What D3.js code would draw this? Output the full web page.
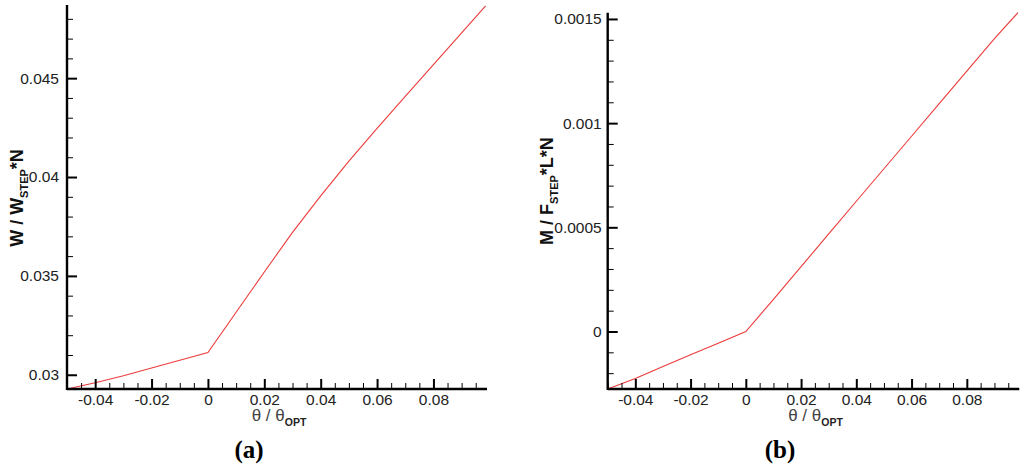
<!DOCTYPE html>
<html>
<head>
<meta charset="utf-8">
<script src="https://cdn.jsdelivr.net/npm/d3@7"></script>
<style>
  html, body { margin: 0; padding: 0; background: #fff; }
  svg { display: block; }
</style>
</head>
<body>
<svg id="chart" width="1024" height="470"></svg>
<script>
// ---- data ----
const thetaValues = [-0.05, -0.04, -0.03, -0.02, -0.01, 0, 0.01, 0.02, 0.03, 0.04, 0.05, 0.06, 0.07, 0.08, 0.09, 0.0985];
const wValues = [0.02928, 0.02960, 0.02995, 0.03034, 0.03073, 0.03112, 0.03316, 0.03520, 0.03720, 0.03905, 0.04080, 0.04246, 0.04408, 0.04568, 0.04729, 0.04866];
const mValues = [-0.000276, -0.000226, -0.000168, -0.000112, -0.0000563, 0, 0.000154, 0.000311, 0.000468, 0.000625, 0.000781, 0.000937, 0.001094, 0.00125, 0.001406, 0.00153];

const xMajorTicks = [-0.04, -0.02, 0, 0.02, 0.04, 0.06, 0.08];
const xTickLabels = ["-0.04", "-0.02", "0", "0.02", "0.04", "0.06", "0.08"];
const wMajorTicks = [0.03, 0.035, 0.04, 0.045];
const wTickLabels = ["0.03", "0.035", "0.04", "0.045"];
const mMajorTicks = [0, 0.0005, 0.001, 0.0015];
const mTickLabels = ["0", "0.0005", "0.001", "0.0015"];

const xMinorStep = 0.005;
const wMinorStep = 0.001;
const mMinorStep = 0.0001;

const svg = d3.select("#chart");
const FONT = "'Liberation Sans', Arial, sans-serif";

function minorTicks(domain, step, majors) {
  const out = [];
  const start = Math.ceil(domain[0] / step - 1e-6);
  const end = Math.floor(domain[1] / step + 1e-6);
  for (let i = start; i <= end; i++) {
    const v = +(i * step).toFixed(8);
    if (!majors.some(m => Math.abs(m - v) < step / 10)) out.push(v);
  }
  return out;
}

function panel(opts) {
  const g = svg.append("g");
  const x = d3.scaleLinear().domain(opts.xDomain).range(opts.xRange);
  const y = d3.scaleLinear().domain(opts.yDomain).range(opts.yRange);
  const x0 = opts.xRange[0], y0 = opts.yRange[0];

  // line
  const line = d3.line().x((d, i) => x(thetaValues[i])).y(d => y(d));
  g.append("path")
    .datum(opts.values)
    .attr("d", line)
    .attr("fill", "none")
    .attr("stroke", "#ec3b3b")
    .attr("stroke-width", 1.1);

  // x axis (ticks inward = upward)
  const xAxisMajor = d3.axisBottom(x).tickValues(xMajorTicks)
    .tickSizeInner(-10).tickSizeOuter(0).tickFormat((d, i) => xTickLabels[i]);
  const gx = g.append("g").attr("transform", `translate(0,${y0})`).call(xAxisMajor);
  gx.select(".domain").remove();
  gx.selectAll(".tick line").attr("stroke", "#000").attr("stroke-width", 2);
  gx.selectAll(".tick text").attr("font-family", FONT).attr("font-size", 15.5).attr("fill", "#222")
    .attr("y", 5).attr("dy", "0.71em");
  const xAxisMinor = d3.axisBottom(x).tickValues(minorTicks(opts.xDomain, xMinorStep, xMajorTicks))
    .tickSizeInner(-6).tickSizeOuter(0).tickFormat("");
  const gxm = g.append("g").attr("transform", `translate(0,${y0})`).call(xAxisMinor);
  gxm.select(".domain").remove();
  gxm.selectAll(".tick line").attr("stroke", "#000").attr("stroke-width", 1);

  // y axis (ticks inward = rightward)
  const yAxisMajor = d3.axisLeft(y).tickValues(opts.yMajor)
    .tickSizeInner(-10).tickSizeOuter(0).tickFormat((d, i) => opts.yLabels[i]);
  const gy = g.append("g").attr("transform", `translate(${x0},0)`).call(yAxisMajor);
  gy.select(".domain").remove();
  gy.selectAll(".tick line").attr("stroke", "#000").attr("stroke-width", 2);
  gy.selectAll(".tick text").attr("font-family", FONT).attr("font-size", 15.5).attr("fill", "#222")
    .attr("x", -opts.labelGap);
  const yAxisMinor = d3.axisLeft(y).tickValues(minorTicks(opts.yDomain, opts.yMinorStep, opts.yMajor))
    .tickSizeInner(-6).tickSizeOuter(0).tickFormat("");
  const gym = g.append("g").attr("transform", `translate(${x0},0)`).call(yAxisMinor);
  gym.select(".domain").remove();
  gym.selectAll(".tick line").attr("stroke", "#000").attr("stroke-width", 1);

  // axis lines
  g.append("line").attr("x1", x0).attr("x2", opts.xRange[1]).attr("y1", y0).attr("y2", y0)
    .attr("stroke", "#000").attr("stroke-width", 2.4);
  g.append("line").attr("x1", x0).attr("x2", x0).attr("y1", y0 + 1).attr("y2", opts.yRange[1])
    .attr("stroke", "#000").attr("stroke-width", 2.4);

  // x title
  const xt = g.append("text")
    .attr("x", (opts.xRange[0] + opts.xRange[1]) / 2 + 2)
    .attr("y", 421)
    .attr("text-anchor", "middle")
    .attr("font-family", FONT)
    .attr("font-size", 17)
    .attr("fill", "#444");
  xt.append("tspan").text("\u03B8 / \u03B8");
  xt.append("tspan").attr("dy", 5).attr("font-size", 10.5).attr("font-weight", "bold").attr("fill", "#222").text("OPT");

  // y title
  const yt = g.append("text")
    .attr("transform", `translate(${opts.yTitleX},${opts.yTitleY}) rotate(-90)`)
    .attr("text-anchor", "middle")
    .attr("font-family", FONT)
    .attr("font-weight", "bold")
    .attr("font-size", 18)
    .attr("fill", "#111");
  opts.yTitleParts.forEach(p => {
    const t = yt.append("tspan").text(p.text);
    if (p.sub) t.attr("dy", 5).attr("font-size", 11);
    if (p.after) t.attr("dy", -5);
  });

  // caption
  const cap = g.append("text")
    .attr("x", opts.captionX).attr("y", 458)
    .attr("text-anchor", "middle")
    .attr("font-family", "'Liberation Serif', 'Times New Roman', serif")
    .attr("font-weight", "bold")
    .attr("font-size", 25)
    .attr("fill", "#000");
  cap.append("tspan").text("(");
  cap.append("tspan").text(opts.caption);
  cap.append("tspan").text(")");
}

panel({
  xDomain: [-0.05, 0.099], xRange: [67, 487],
  yDomain: [0.02928, 0.0487], yRange: [389, 5],
  values: wValues, yMajor: wMajorTicks, yLabels: wTickLabels, yMinorStep: wMinorStep,
  labelGap: 8,
  yTitleX: 23, yTitleY: 198,
  yTitleParts: [{text: "W / W"}, {text: "STEP", sub: true}, {text: "*N", after: true}],
  captionX: 249, caption: "a"
});

panel({
  xDomain: [-0.05, 0.099], xRange: [607.7, 1019.3],
  yDomain: [-0.000276, 0.00153], yRange: [389, 12.7],
  values: mValues, yMajor: mMajorTicks, yLabels: mTickLabels, yMinorStep: mMinorStep,
  labelGap: 6,
  yTitleX: 553, yTitleY: 191,
  yTitleParts: [{text: "M / F"}, {text: "STEP", sub: true}, {text: "*L*N", after: true}],
  captionX: 780, caption: "b"
});
</script>
</body>
</html>
